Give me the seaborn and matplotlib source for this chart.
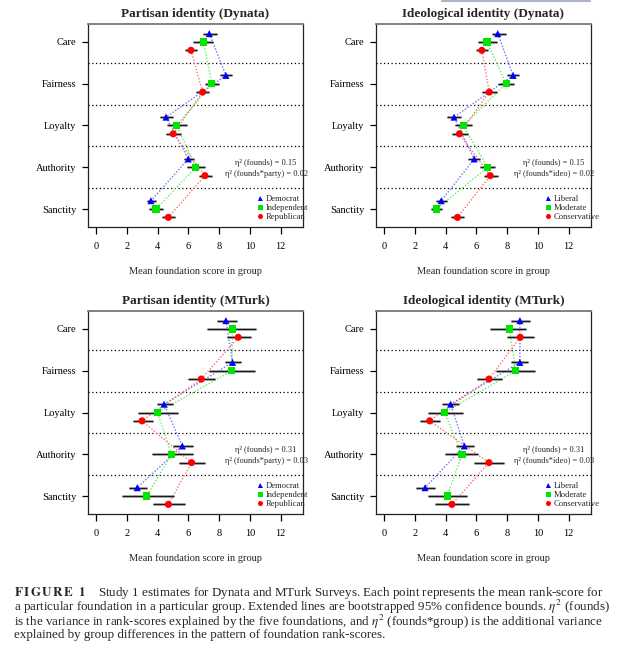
import matplotlib
matplotlib.use("Agg")
import matplotlib.pyplot as plt
import seaborn as sns
import pandas as pd
from matplotlib.lines import Line2D

# ---------------- data ----------------
foundations = ["Care", "Fairness", "Loyalty", "Authority", "Sanctity"]
party_groups = ["Democrat", "Independent", "Republican"]
ideo_groups = ["Liberal", "Moderate", "Conservative"]
x_ticks = [0, 2, 4, 6, 8, 10, 12]

# Partisan identity (Dynata)
dp_dem = [7.36, 8.44, 4.55, 6.00, 3.57]
dp_dem_lo = [6.97, 8.05, 4.16, 5.71, 3.29]
dp_dem_hi = [7.84, 8.83, 4.98, 6.36, 3.90]
dp_ind = [6.97, 7.53, 5.24, 6.49, 3.90]
dp_ind_lo = [6.32, 7.06, 4.59, 5.89, 3.42]
dp_ind_hi = [7.62, 8.00, 5.93, 7.06, 4.37]
dp_rep = [6.17, 6.93, 5.02, 7.08, 4.70]
dp_rep_lo = [5.80, 6.49, 4.55, 6.67, 4.26]
dp_rep_hi = [6.54, 7.36, 5.50, 7.53, 5.13]

# Ideological identity (Dynata)
di_lib = [7.39, 8.39, 4.55, 5.86, 3.72]
di_lib_lo = [7.00, 8.00, 4.11, 5.46, 3.41]
di_lib_hi = [7.93, 8.79, 4.98, 6.25, 4.11]
di_mod = [6.69, 7.93, 5.14, 6.73, 3.41]
di_mod_lo = [6.12, 7.43, 4.59, 6.25, 3.06]
di_mod_hi = [7.34, 8.44, 5.75, 7.21, 3.80]
di_con = [6.36, 6.84, 4.90, 6.90, 4.77]
di_con_lo = [5.95, 6.40, 4.42, 6.47, 4.33]
di_con_hi = [6.78, 7.34, 5.46, 7.39, 5.20]

# Partisan identity (MTurk)
mp_dem = [8.44, 8.87, 4.42, 5.61, 2.68]
mp_dem_lo = [7.84, 8.35, 3.94, 4.98, 2.12]
mp_dem_hi = [9.14, 9.39, 4.98, 6.28, 3.33]
mp_ind = [8.87, 8.83, 4.00, 4.91, 3.29]
mp_ind_lo = [7.19, 7.32, 2.73, 3.64, 1.69]
mp_ind_hi = [10.39, 10.30, 5.32, 6.28, 5.06]
mp_rep = [9.24, 6.84, 2.99, 6.21, 4.70]
mp_rep_lo = [8.49, 5.97, 2.42, 5.41, 3.72]
mp_rep_hi = [10.04, 7.71, 3.68, 7.06, 5.76]

# Ideological identity (MTurk)
mi_lib = [8.83, 8.83, 4.33, 5.22, 2.67]
mi_lib_lo = [8.22, 8.22, 3.80, 4.68, 2.05]
mi_lib_hi = [9.49, 9.36, 4.90, 5.82, 3.32]
mi_mod = [8.13, 8.57, 3.93, 5.07, 4.11]
mi_mod_lo = [6.90, 7.26, 2.89, 3.98, 2.84]
mi_mod_hi = [9.23, 9.84, 5.16, 6.12, 5.42]
mi_con = [8.85, 6.82, 2.97, 6.82, 4.41]
mi_con_lo = [7.96, 6.03, 2.36, 5.82, 3.32]
mi_con_hi = [9.75, 7.65, 3.63, 7.78, 5.55]

eta_found = ["0.15", "0.15", "0.31", "0.31"]
eta_inter = ["0.02", "0.02", "0.03", "0.03"]

titles = ["Partisan identity (Dynata)", "Ideological identity (Dynata)",
          "Partisan identity (MTurk)", "Ideological identity (MTurk)"]
xlabel = "Mean foundation score in group"

# ---------------- style ----------------
sns.set_theme(style="ticks")
plt.rcParams["font.family"] = ["Liberation Serif", "DejaVu Serif"]
plt.rcParams["mathtext.fontset"] = "stix"
plt.rcParams["axes.linewidth"] = 0.9

marker_list = ["^", "s", "o"]
point_colors = ["#0000ff", "#00e600", "#ff0000"]
line_colors = ["#7070ff", "#60ee60", "#ff7070"]
offsets = [0.2, 0.0, -0.2]

W, H = 622, 655
fig = plt.figure(figsize=(W / 100, H / 100), dpi=100)


def axes_at(left, top, width=215, height=203):
    return fig.add_axes([left / W, 1 - (top + height) / H, width / W, height / H])


def draw_panel(ax, title, groups, means, los, his, e1, e2, inter_name):
    rows = []
    for gi, g in enumerate(groups):
        for fi, f in enumerate(foundations):
            rows.append(dict(group=g, foundation=f, mean=means[gi][fi],
                             lo=los[gi][fi], hi=his[gi][fi],
                             ypos=len(foundations) - fi + offsets[gi]))
    df = pd.DataFrame(rows)

    pal_pts = dict(zip(groups, point_colors))
    pal_lines = dict(zip(groups, line_colors))
    mk = dict(zip(groups, marker_list))

    # separators
    for yv in [4.5, 3.5, 2.5, 1.5]:
        ax.axhline(yv, color="black", lw=0.9, ls=(0, (1, 2)), zorder=1)

    # connecting dotted lines
    sns.lineplot(data=df, x="mean", y="ypos", hue="group", palette=pal_lines,
                 sort=False, estimator=None, legend=False, ax=ax,
                 lw=1.0, ls=(0, (1, 1.3)), zorder=2)

    # confidence bounds
    ax.hlines(df["ypos"], df["lo"], df["hi"], color="#a0a0a0", lw=1.8, zorder=3)
    ax.hlines(df["ypos"], df["lo"], df["hi"], color="#1a1a1a", lw=0.9, zorder=3)

    # points
    sns.scatterplot(data=df, x="mean", y="ypos", hue="group", style="group",
                    palette=pal_pts, markers=mk, s=26, linewidth=0,
                    legend=False, ax=ax, zorder=5)

    ax.set_xlim(-0.52, 13.45)
    ax.set_ylim(0.57, 5.43)
    ax.set_xticks(x_ticks)
    ax.set_xticklabels([str(t) for t in x_ticks])
    ax.set_yticks([5, 4, 3, 2, 1])
    ax.set_yticklabels(foundations)
    ax.tick_params(axis="x", direction="out", length=5, width=0.9,
                   labelsize=7.5, pad=5.5, colors="black")
    ax.tick_params(axis="y", direction="out", length=4.5, width=0.9,
                   labelsize=7.5, pad=4, colors="black")
    for s in ax.spines.values():
        s.set_visible(True)
        s.set_color("#222222")
    ax.spines["top"].set_color("#777777")
    ax.spines["top"].set_linewidth(1.3)
    ax.set_xlabel(xlabel, fontsize=7.5, labelpad=11)
    ax.set_ylabel("")
    ax.set_title(title, fontsize=9.5, fontweight="bold", pad=5)

    ax.text(11.05, 2.1, "η² (founds) = " + e1, ha="center", va="center",
            fontsize=6)
    ax.text(11.05, 1.83, "η² (founds*" + inter_name + ") = " + e2,
            ha="center", va="center", fontsize=6)

    handles = [Line2D([], [], ls="none", marker=m, color=c, markersize=3.6,
                      markeredgewidth=0) for m, c in zip(marker_list, point_colors)]
    ax.legend(handles, groups, loc="upper left", bbox_to_anchor=(0.78, 0.16),
              frameon=False, fontsize=6.2, handlelength=0.9, handletextpad=0.3,
              labelspacing=0.12, borderpad=0, borderaxespad=0)


ax1 = axes_at(88, 24)
ax2 = axes_at(376, 24)
ax3 = axes_at(88, 311)
ax4 = axes_at(376, 311)

draw_panel(ax1, titles[0], party_groups, [dp_dem, dp_ind, dp_rep],
           [dp_dem_lo, dp_ind_lo, dp_rep_lo], [dp_dem_hi, dp_ind_hi, dp_rep_hi],
           eta_found[0], eta_inter[0], "party")
draw_panel(ax2, titles[1], ideo_groups, [di_lib, di_mod, di_con],
           [di_lib_lo, di_mod_lo, di_con_lo], [di_lib_hi, di_mod_hi, di_con_hi],
           eta_found[1], eta_inter[1], "ideo")
draw_panel(ax3, titles[2], party_groups, [mp_dem, mp_ind, mp_rep],
           [mp_dem_lo, mp_ind_lo, mp_rep_lo], [mp_dem_hi, mp_ind_hi, mp_rep_hi],
           eta_found[2], eta_inter[2], "party")
draw_panel(ax4, titles[3], ideo_groups, [mi_lib, mi_mod, mi_con],
           [mi_lib_lo, mi_mod_lo, mi_con_lo], [mi_lib_hi, mi_mod_hi, mi_con_hi],
           eta_found[3], eta_inter[3], "ideo")

# page rule fragment at top right
fig.add_artist(Line2D([442 / W, 590 / W], [1 - 1 / H, 1 - 1 / H],
                      color="#aab4cc", lw=1.5))

# ---------------- caption ----------------
cap_fs = 9.4
caption = (
    r"$\mathbf{F\,I\,G\,U\,R\,E\ \ 1}$    Study 1 estimates for Dynata and MTurk Surveys. Each point represents the mean rank-score for" "\n"
    r"a particular foundation in a particular group. Extended lines are bootstrapped 95% confidence bounds. $\eta^2$ (founds)" "\n"
    r"is the variance in rank-scores explained by the five foundations, and $\eta^2$ (founds*group) is the additional variance" "\n"
    r"explained by group differences in the pattern of foundation rank-scores."
)
fig.text(14 / W, 1 - 585 / H, caption, fontsize=cap_fs, va="top", ha="left",
         linespacing=0.78)

fig.savefig("out.png", dpi=100)
